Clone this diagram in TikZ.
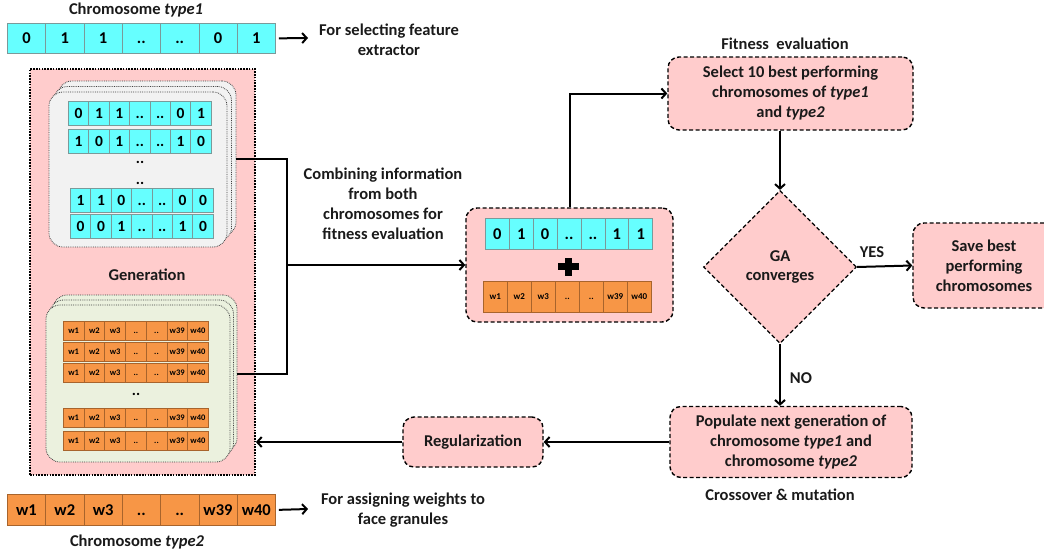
\documentclass[tikz,border=0pt]{standalone}
\usepackage{fontspec}
\setmainfont{Carlito}
\usetikzlibrary{arrows.meta,shapes.geometric,calc}
\definecolor{cyanc}{HTML}{66FFFF}
\definecolor{cyanb}{HTML}{7A9A9A}
\definecolor{orc}{HTML}{F79646}
\definecolor{orb}{HTML}{A8642C}
\definecolor{pinkc}{HTML}{FFCCCC}
\definecolor{grayc}{HTML}{F2F2F2}
\definecolor{greenc}{HTML}{EBF1DE}
\definecolor{txt}{HTML}{1A1A1A}
\newcommand\fsz[2]{\fontsize{#1}{#2}\selectfont}
\newcommand\dd{..}
\newcommand\cellrow[7]{\foreach \cv [count=\ci] in {#7}{\node[#6, minimum width=#4pt, minimum height=#5pt, anchor=north west] (#1\ci) at ({#2+(\ci-1)*#4},#3) {\vphantom{0}\cv};}}
\tikzset{
  cellc/.style={draw=cyanb, fill=cyanc, line width=0.7pt, inner sep=0pt, text=black},
  cello/.style={draw=orb, fill=orc, line width=0.7pt, inner sep=0pt, text=black},
  bigbox/.style={draw, dash pattern=on 1.6pt off 1.2pt, line width=1.8pt, fill=pinkc, inner sep=0pt},
  card/.style={draw=black!75, densely dotted, line width=0.8pt, rounded corners=14pt, inner sep=0pt},
  proc/.style={draw, dash pattern=on 4pt off 2.5pt, line width=1.4pt, rounded corners=11pt, fill=pinkc, align=center, font=\bfseries\fsz{16.5}{20}, text=txt, inner sep=2pt},
  lab/.style={align=center, font=\bfseries\fsz{16.5}{20}, text=txt, inner sep=0pt},
  conn/.style={line width=2pt, draw=black},
  >={Straight Barb[length=4.5pt,width=10pt]}
}
\begin{document}
\begin{tikzpicture}[x=1pt,y=-1pt]
\useasboundingbox (0,0) rectangle (1044,554);

% top chromosome
\node[lab] (t1lab) at (136,10) {Chromosome \textit{type1}};
\cellrow{tc}{7}{23}{38.3}{30}{cellc, font=\bfseries\fsz{16.5}{16}}{0,1,1,\dd,\dd,0,1}
\node[lab] (selfeat) at (389,40) {For selecting feature\\extractor};
\coordinate (selarr) at (308,38);
\draw[conn,->] ([xshift=3pt]tc7.east) -- (selarr);

% big generation box
\node[bigbox, minimum width=225pt, minimum height=406pt] (big) at (142.5,272) {};
\node[lab] (genlab) at (147,275) {Generation};

% top stack of cards
\node[card, fill=grayc, minimum width=178pt, minimum height=155pt] (tcb2) at (147,158.5) {};
\node[card, fill=grayc, minimum width=178pt, minimum height=155pt] (tcb1) at (142.5,164) {};
\node[card, fill=grayc, minimum width=178pt, minimum height=155pt] (tcf) at (138,169.5) {};
\cellrow{ra}{68}{101}{20.4}{24}{cellc, font=\bfseries\fsz{15.5}{15}}{0,1,1,\dd,\dd,0,1}
\cellrow{rb}{68}{129}{20.4}{24}{cellc, font=\bfseries\fsz{15.5}{15}}{1,0,1,\dd,\dd,1,0}
\cellrow{rc}{70}{188}{20.4}{24}{cellc, font=\bfseries\fsz{15.5}{15}}{1,1,0,\dd,\dd,0,0}
\cellrow{rd}{70}{214}{20.4}{24}{cellc, font=\bfseries\fsz{15.5}{15}}{0,0,1,\dd,\dd,1,0}
\node[font=\bfseries\fsz{15.5}{15}, inner sep=0pt] (tdot1) at (140,162) {..};
\node[font=\bfseries\fsz{15.5}{15}, inner sep=0pt] (tdot2) at (140,183) {..};

% bottom stack of cards
\node[card, fill=greenc, minimum width=184pt, minimum height=157pt] (bcb2) at (145,373.5) {};
\node[card, fill=greenc, minimum width=184pt, minimum height=157pt] (bcb1) at (141.5,378.5) {};
\node[card, fill=greenc, minimum width=184pt, minimum height=157pt] (bcf) at (138,383.5) {};
\cellrow{wa}{63}{321}{20.7}{19}{cello, font=\bfseries\fsz{8.5}{8}}{w1,w2,w3,\dd,\dd,w39,w40}
\cellrow{wb}{63}{342}{20.7}{19}{cello, font=\bfseries\fsz{8.5}{8}}{w1,w2,w3,\dd,\dd,w39,w40}
\cellrow{wc}{63}{363}{20.7}{19}{cello, font=\bfseries\fsz{8.5}{8}}{w1,w2,w3,\dd,\dd,w39,w40}
\cellrow{wd}{63}{408}{20.7}{19}{cello, font=\bfseries\fsz{8.5}{8}}{w1,w2,w3,\dd,\dd,w39,w40}
\cellrow{we}{63}{431}{20.7}{19}{cello, font=\bfseries\fsz{8.5}{8}}{w1,w2,w3,\dd,\dd,w39,w40}
\node[font=\bfseries\fsz{15.5}{15}, inner sep=0pt] (bdot) at (136,394) {..};

% bottom chromosome
\cellrow{bc}{7}{494}{38.3}{31}{cello, font=\bfseries\fsz{16.5}{16}}{w1,w2,w3,\dd,\dd,w39,w40}
\node[lab] (assign) at (403,510) {For assigning weights to\\face granules};
\coordinate (asarr) at (308,509);
\draw[conn,->] ([xshift=3pt]bc7.east) -- (asarr);
\node[lab] (t2lab) at (137,542) {Chromosome \textit{type2}};

% combined box
\node[proc, minimum width=207pt, minimum height=114pt] (comb) at (569.5,265) {};
\cellrow{cc}{485}{218}{23.9}{31}{cellc, font=\bfseries\fsz{16.5}{16}}{0,1,0,\dd,\dd,1,1}
\cellrow{co}{483}{281}{24}{31}{cello, font=\bfseries\fsz{9}{9}}{w1,w2,w3,\dd,\dd,w39,w40}
\fill (558,263) rectangle (579,270);
\fill (565,257.5) rectangle (572,275.5);
\node[lab] (combtxt) at (383,204) {Combining information\\from both\\chromosomes for\\fitness evaluation};

% connectors from the generation
\coordinate (jn) at (287,265);
\draw[conn] (tcb2.east) -| (jn) |- (bcb2.east);
\draw[conn,->] (jn) -- (comb.west);

% right-hand flow
\node[lab] (fitlab) at (785,44) {Fitness\ \ evaluation};
\node[proc, minimum width=245pt, minimum height=73pt] (sel) at (790.5,93.5) {Select 10 best performing\\chromosomes of \textit{type1}\\and \textit{type2}};
\node[draw, dash pattern=on 4pt off 2.5pt, line width=1.2pt, fill=pinkc, diamond, aspect=1, minimum width=153pt, minimum height=153pt, inner sep=0pt, align=center, font=\bfseries\fsz{16.5}{19}, text=txt] (dia) at (780,267) {GA\\converges};
\node[proc, minimum width=142pt, minimum height=85pt] (save) at (984,265.5) {Save best\\performing\\chromosomes};
\node[proc, minimum width=242pt, minimum height=71pt] (pop) at (791,442) {Populate next generation of\\chromosome \textit{type1} and\\chromosome \textit{type2}};
\node[proc, minimum width=140pt, minimum height=50pt] (reg) at (473,442) {Regularization};
\node[lab] (cross) at (780,495) {Crossover \& mutation};
\node[lab] (yes) at (872,252) {YES};
\node[lab] (no) at (801,378) {NO};

\draw[conn,->] (comb.north) |- (sel.west);
\draw[conn,->] (sel.south -| dia.north) -- (dia.north);
\draw[conn,->] (dia.east) -- (save.west);
\draw[conn,->] (dia.south) -- (pop.north -| dia.south);
\draw[conn,->] (pop.west) -- (reg.east);
\draw[conn,->] (reg.west) -- (big.east |- reg.west);
\end{tikzpicture}
\end{document}
